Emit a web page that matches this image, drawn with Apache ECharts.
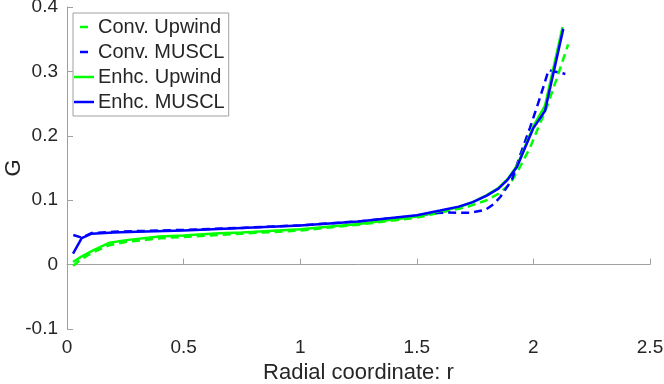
<!DOCTYPE html>
<html>
<head>
<meta charset="utf-8">
<script src="https://cdn.jsdelivr.net/npm/echarts@6/dist/echarts.min.js"></script>
<style>
  html, body { margin: 0; padding: 0; background: #fff; }
  #chart { width: 664px; height: 384px; }
</style>
</head>
<body>
<div id="chart"></div>
<script>
  // values
  var seriesNames = ['Conv. Upwind', 'Conv. MUSCL', 'Enhc. Upwind', 'Enhc. MUSCL']

  var convUpwindR = [0.026, 0.06, 0.11, 0.18, 0.25, 0.4, 0.5, 0.75, 1.0, 1.25, 1.5, 1.63, 1.72, 1.80, 1.85, 1.90, 1.94, 1.986, 2.02, 2.057, 2.107, 2.149]
  var convUpwindG = [-0.002, 0.008, 0.019, 0.030, 0.035, 0.041, 0.043, 0.048, 0.053, 0.062, 0.073, 0.083, 0.090, 0.100, 0.110, 0.125, 0.150, 0.182, 0.212, 0.244, 0.296, 0.342]

  var convMusclR = [0.027, 0.063, 0.105, 0.2, 0.3, 0.5, 0.75, 1.0, 1.25, 1.5, 1.58, 1.63, 1.68, 1.73, 1.794, 1.83, 1.858, 1.908, 1.95, 1.986, 2.029, 2.065, 2.137]
  var convMusclG = [0.046, 0.042, 0.049, 0.051, 0.052, 0.054, 0.057, 0.061, 0.067, 0.076, 0.080, 0.081, 0.0805, 0.0805, 0.085, 0.094, 0.105, 0.132, 0.177, 0.213, 0.260, 0.302, 0.296]

  var enhUpwindR = [0.026, 0.06, 0.112, 0.183, 0.254, 0.396, 0.5, 0.652, 0.75, 1.0, 1.25, 1.5, 1.6, 1.68, 1.74, 1.80, 1.85, 1.89, 1.93, 1.96, 2.0, 2.05, 2.125]
  var enhUpwindG = [0.004, 0.012, 0.022, 0.034, 0.038, 0.0435, 0.045, 0.0487, 0.050, 0.055, 0.063, 0.0745, 0.083, 0.089, 0.097, 0.108, 0.119, 0.133, 0.154, 0.180, 0.215, 0.247, 0.369]

  var enhMusclR = [0.026, 0.063, 0.106, 0.2, 0.3, 0.5, 0.75, 1.0, 1.25, 1.5, 1.6, 1.68, 1.74, 1.80, 1.85, 1.89, 1.93, 1.96, 2.0, 2.05, 2.128]
  var enhMusclG = [0.017, 0.041, 0.048, 0.050, 0.051, 0.053, 0.057, 0.0606, 0.067, 0.0766, 0.084, 0.090, 0.097, 0.107, 0.118, 0.132, 0.152, 0.178, 0.212, 0.239, 0.366]

  function pairs(xs, ys) {
    return xs.map(function (x, i) { return [x, ys[i]] })
  }

  var green = '#00ff00'
  var blue = '#0000ff'
  var dash = [8, 5]
  var font = 'Liberation Sans, Arial, Helvetica, sans-serif'
  // legend icons: 20 x 2.5 box, solid bar or short centred dash
  var solidIcon = 'path://M0,0h20v2.5h-20z'
  var dashIcon = 'path://M0,0h0.01v2.5h-0.01z M6,0h8v2.5h-8z M19.99,0h0.01v2.5h-0.01z'

  var myChart = echarts.init(document.getElementById('chart'))

  function line(name, data, color, dashed) {
    return {
      name: name,
      type: 'line',
      data: data,
      showSymbol: false,
      symbol: 'none',
      animation: false,
      lineStyle: { color: color, width: 2.5, type: dashed ? dash : 'solid' },
      itemStyle: { color: color }
    }
  }

  var option = {
    backgroundColor: '#fff',
    textStyle: { fontFamily: font },
    grid: { left: 67, right: 14, top: 7, bottom: 55, outerBoundsMode: 'none', containLabel: false },
    legend: {
      left: 73,
      top: 13,
      orient: 'vertical',
      padding: [4, 4, 4, 1],
      itemGap: 5,
      itemWidth: 20,
      itemHeight: 2.5,
      borderColor: '#a0a0a0',
      borderWidth: 1,
      borderRadius: 0,
      backgroundColor: '#fff',
      textStyle: { fontSize: 20, color: '#262626', fontFamily: font, lineHeight: 20, padding: [0, 0, 0, -1] },
      data: [
        { name: seriesNames[0], icon: dashIcon, itemStyle: { color: green } },
        { name: seriesNames[1], icon: dashIcon, itemStyle: { color: blue } },
        { name: seriesNames[2], icon: solidIcon, itemStyle: { color: green } },
        { name: seriesNames[3], icon: solidIcon, itemStyle: { color: blue } }
      ]
    },
    xAxis: {
      type: 'value',
      min: 0,
      max: 2.5,
      interval: 0.5,
      name: 'Radial coordinate: r',
      nameLocation: 'middle',
      nameGap: 30,
      nameTextStyle: { fontSize: 22, color: '#262626' },
      axisLine: { show: true, lineStyle: { color: '#a0a0a0', width: 1 } },
      axisTick: { show: true, inside: true, length: 6, lineStyle: { color: '#a0a0a0' } },
      axisLabel: { fontSize: 19, color: '#262626', margin: 9 },
      splitLine: { show: false }
    },
    yAxis: {
      type: 'value',
      min: -0.1,
      max: 0.4,
      interval: 0.1,
      name: 'G',
      nameLocation: 'middle',
      nameGap: 42,
      nameMoveOverlap: false,
      nameTextStyle: { fontSize: 22, color: '#262626' },
      axisLine: { show: true, lineStyle: { color: '#a0a0a0', width: 1 } },
      axisTick: { show: true, inside: true, length: 6, lineStyle: { color: '#a0a0a0' } },
      axisLabel: {
        fontSize: 19,
        color: '#262626',
        margin: 9,
        formatter: function (v) { return +v.toFixed(1) + '' }
      },
      splitLine: { show: false }
    },
    series: [
      line(seriesNames[0], pairs(convUpwindR, convUpwindG), green, true),
      line(seriesNames[1], pairs(convMusclR, convMusclG), blue, true),
      line(seriesNames[2], pairs(enhUpwindR, enhUpwindG), green, false),
      line(seriesNames[3], pairs(enhMusclR, enhMusclG), blue, false)
    ]
  }
  myChart.setOption(option)
</script>
</body>
</html>
